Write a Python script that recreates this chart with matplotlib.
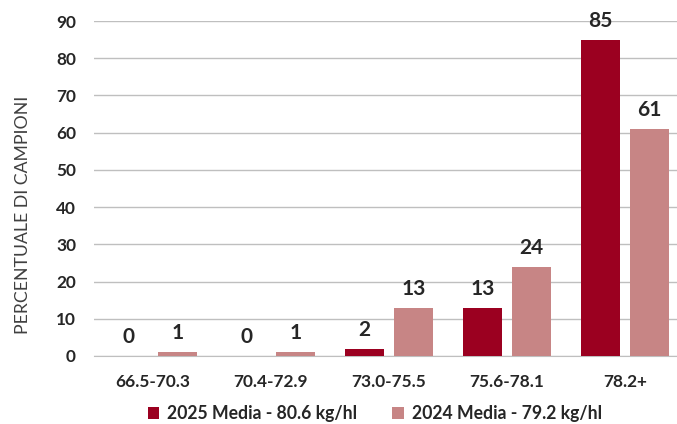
import matplotlib
matplotlib.use("Agg")
import matplotlib.pyplot as plt
import numpy as np

categories = ["66.5-70.3", "70.4-72.9", "73.0-75.5", "75.6-78.1", "78.2+"]
val_2025 = [0, 0, 2, 13, 85]
val_2024 = [1, 1, 13, 24, 61]
labels = ["2025 Media - 80.6 kg/hl", "2024 Media - 79.2 kg/hl"]
colors = ["#9B0020", "#C78585"]

plt.rcParams['font.family'] = ['Lato', 'DejaVu Sans']
text_col = "#262626"

fig = plt.figure(figsize=(6.77, 4.24), dpi=100)
ax = fig.add_axes([94/677, (424-356)/424, 590/677, 335/424])

x = np.arange(len(categories))
w = 0.33
off = 0.208
b1 = ax.bar(x - off, val_2025, w, color=colors[0], label=labels[0], zorder=3)
b2 = ax.bar(x + off, val_2024, w, color=colors[1], label=labels[1], zorder=3)

for bars, vals in ((b1, val_2025), (b2, val_2024)):
    for rect, v in zip(bars, vals):
        ax.annotate(str(v), (rect.get_x() + rect.get_width()/2, v),
                    xytext=(0, 6.5), textcoords="offset points",
                    ha="center", va="bottom", fontsize=15, fontweight="bold",
                    color=text_col)

ax.set_xlim(-0.5, len(categories) - 0.5)
ax.set_ylim(0, 90)
ax.set_yticks(range(0, 91, 10))
ax.set_xticks(x)
ax.set_xticklabels(categories)
ax.yaxis.grid(True, color="#BFBFBF", lw=1)
ax.set_axisbelow(True)
for s in ["top", "right", "left"]:
    ax.spines[s].set_visible(False)
ax.spines["bottom"].set_color("#BFBFBF")
ax.tick_params(length=0, labelsize=12.4, colors=text_col)
ax.tick_params(axis="x", pad=13)
ax.tick_params(axis="y", pad=13)
for t in ax.get_xticklabels() + ax.get_yticklabels():
    t.set_fontweight("bold")

ax.set_ylabel("PERCENTUALE DI CAMPIONI", fontsize=12.7, color="#404040")
ax.yaxis.set_label_coords(-0.107, 0.42)

ax.legend(loc="center", bbox_to_anchor=(0.476, -0.172), ncol=2, frameon=False,
          prop={"size": 12.7, "weight": "bold"}, labelcolor=text_col,
          handlelength=0.65, handleheight=0.65, handletextpad=0.45, columnspacing=2.0,
          borderpad=0.1)

fig.savefig("out.png", dpi=100)
